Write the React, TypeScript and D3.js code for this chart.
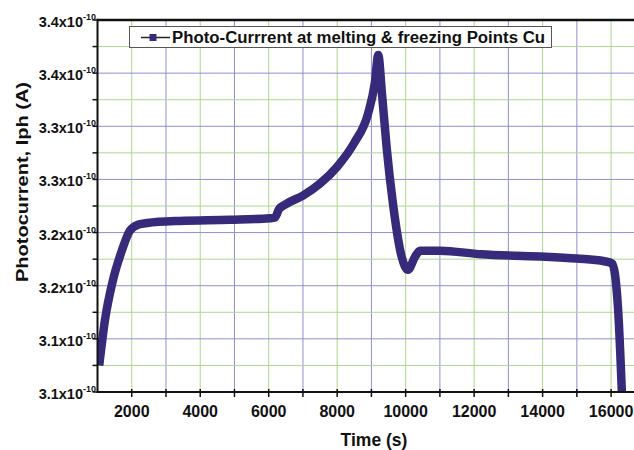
import React, { useRef, useEffect } from "react";
import * as d3 from "d3";

// time (s) and photocurrent (x1e-10 A)
const timeS = [
  1050, 1220, 1450, 1700, 1950, 2200, 2450, 3400, 4870, 6040, 6180, 6300, 6530,
  7000, 7500, 8000, 8500, 8900, 9100, 9200, 9310, 9445, 9630, 9885, 10070,
  10270, 10420, 11000, 12200, 13920, 15000, 15800, 16030, 16200, 16350,
];
const photoCurrent = [
  3.125, 3.168, 3.205, 3.232, 3.252, 3.2575, 3.259, 3.261, 3.262, 3.2635, 3.264,
  3.272, 3.2773, 3.2848, 3.2961, 3.312, 3.3345, 3.3617, 3.3908, 3.417, 3.38,
  3.33, 3.277, 3.227, 3.215, 3.227, 3.233, 3.233, 3.2295, 3.2275, 3.2255, 3.223,
  3.221, 3.18, 3.07,
];

const xTicks = [2000, 4000, 6000, 8000, 10000, 12000, 14000, 16000];
const yTicks = [3.1, 3.15, 3.2, 3.25, 3.3, 3.35, 3.4, 3.45];
const yTickLabels = ["3.1", "3.1", "3.2", "3.2", "3.3", "3.3", "3.4", "3.4"];
const legendLabel = "Photo-Currrent at melting & freezing Points Cu";

const W = 634,
  H = 450;
const left = 97.5,
  top = 20,
  bottom = 392;
const font = "'Liberation Sans', Arial, sans-serif";
const lineColor = "#382a7a";
const gridBlue = "#8e8ed2";
const gridGreen = "#a9d88e";

const App = () => {
  const svgRef = useRef<SVGSVGElement>(null);

  useEffect(() => {
    const svg = d3.select(svgRef.current);
    svg.selectAll("*").remove();

    const x = d3.scaleLinear().domain([1000, 17000]).range([left, left + 16000 * 0.03424]);
    const y = d3.scaleLinear().domain([3.1, 3.45]).range([bottom, top]);

    svg.append("rect").attr("width", W).attr("height", H).attr("fill", "#fff");

    // grid: vertical every 1000 s, horizontal every 0.025
    const vLines = d3.range(2000, 17001, 1000);
    svg
      .append("g")
      .selectAll("line")
      .data(vLines)
      .enter()
      .append("line")
      .attr("x1", (d) => x(d))
      .attr("x2", (d) => x(d))
      .attr("y1", top)
      .attr("y2", bottom)
      .attr("stroke", (d) => (d % 2000 === 0 ? gridGreen : gridBlue))
      .attr("stroke-width", 1);

    const hLines = d3.range(1, 14).map((i) => 3.1 + i * 0.025);
    svg
      .append("g")
      .selectAll("line")
      .data(hLines)
      .enter()
      .append("line")
      .attr("x1", left)
      .attr("x2", W)
      .attr("y1", (d) => y(d))
      .attr("y2", (d) => y(d))
      .attr("stroke", (d, i) => (i % 2 === 1 ? gridBlue : gridGreen))
      .attr("stroke-width", 1);

    // the curve, clipped to plot area
    svg
      .append("clipPath")
      .attr("id", "plotClip")
      .append("rect")
      .attr("x", left)
      .attr("y", top)
      .attr("width", W - left)
      .attr("height", bottom - top);

    const pts = timeS.map((t, i) => [t, photoCurrent[i]] as [number, number]);
    const line = d3
      .line<[number, number]>()
      .x((d) => x(d[0]))
      .y((d) => y(d[1]))
      .curve(d3.curveMonotoneX);

    svg
      .append("path")
      .datum(pts)
      .attr("clip-path", "url(#plotClip)")
      .attr("d", line)
      .attr("fill", "none")
      .attr("stroke", lineColor)
      .attr("stroke-width", 8.5)
      .attr("stroke-linejoin", "round");

    // axes frame
    svg.append("line").attr("x1", left).attr("x2", W).attr("y1", top).attr("y2", top)
      .attr("stroke", "#111").attr("stroke-width", 2.6);
    svg.append("line").attr("x1", left).attr("x2", W).attr("y1", bottom).attr("y2", bottom)
      .attr("stroke", "#111").attr("stroke-width", 2);
    svg.append("line").attr("x1", left).attr("x2", left).attr("y1", top - 1.3).attr("y2", bottom + 1)
      .attr("stroke", "#111").attr("stroke-width", 2);

    // x ticks
    svg
      .append("g")
      .selectAll("line")
      .data(vLines)
      .enter()
      .append("line")
      .attr("x1", (d) => x(d))
      .attr("x2", (d) => x(d))
      .attr("y1", bottom - 3)
      .attr("y2", bottom + 5)
      .attr("stroke", "#111")
      .attr("stroke-width", 1.5);

    svg
      .append("g")
      .selectAll("text")
      .data(xTicks)
      .enter()
      .append("text")
      .attr("x", (d) => x(d))
      .attr("y", 416.5)
      .attr("text-anchor", "middle")
      .attr("font-family", font)
      .attr("font-weight", "bold")
      .attr("font-size", 16)
      .attr("fill", "#111")
      .text((d) => d);

    // y ticks
    svg
      .append("g")
      .selectAll("line")
      .data(d3.range(0, 15).map((i) => 3.1 + i * 0.025))
      .enter()
      .append("line")
      .attr("x1", left - 5)
      .attr("x2", left)
      .attr("y1", (d) => y(d))
      .attr("y2", (d) => y(d))
      .attr("stroke", "#111")
      .attr("stroke-width", 1.5);

    const yLab = svg
      .append("g")
      .selectAll("text")
      .data(yTicks)
      .enter()
      .append("text")
      .attr("x", 96)
      .attr("y", (d) => y(d) + 7)
      .attr("text-anchor", "end")
      .attr("font-family", font)
      .attr("font-weight", "bold")
      .attr("font-size", 14.5)
      .attr("fill", "#111");
    yLab.append("tspan").text((d, i) => yTickLabels[i] + "x10");
    yLab.append("tspan").attr("dy", -7).attr("font-size", 9).text("-10");

    // axis titles
    svg
      .append("text")
      .attr("x", 374)
      .attr("y", 446)
      .attr("text-anchor", "middle")
      .attr("font-family", font)
      .attr("font-weight", "bold")
      .attr("font-size", 17.5)
      .attr("fill", "#111")
      .text("Time (s)");

    svg
      .append("text")
      .attr("transform", "translate(28,182) rotate(-90)")
      .attr("text-anchor", "middle")
      .attr("font-family", font)
      .attr("font-weight", "bold")
      .attr("font-size", 16)
      .attr("textLength", 200)
      .attr("lengthAdjust", "spacingAndGlyphs")
      .attr("fill", "#111")
      .text("Photocurrent, Iph (A)");

    // legend
    const lg = svg.append("g");
    lg.append("rect")
      .attr("x", 129.5)
      .attr("y", 26.5)
      .attr("width", 422)
      .attr("height", 21)
      .attr("fill", "#fff")
      .attr("stroke", "#555")
      .attr("stroke-width", 1);
    lg.append("line")
      .attr("x1", 141)
      .attr("x2", 170)
      .attr("y1", 37.5)
      .attr("y2", 37.5)
      .attr("stroke", "#222")
      .attr("stroke-width", 1.5);
    lg.append("rect")
      .attr("x", 149.5)
      .attr("y", 34)
      .attr("width", 7)
      .attr("height", 7)
      .attr("fill", lineColor);
    lg.append("text")
      .attr("x", 172)
      .attr("y", 42.5)
      .attr("font-family", font)
      .attr("font-weight", "bold")
      .attr("font-size", 16)
      .attr("textLength", 373)
      .attr("lengthAdjust", "spacingAndGlyphs")
      .attr("fill", "#111")
      .text(legendLabel);
  }, []);

  return (
    <svg
      ref={svgRef}
      width={W}
      height={H}
      style={{ position: "absolute", left: 0, top: 0 }}
    />
  );
};

export default App;
